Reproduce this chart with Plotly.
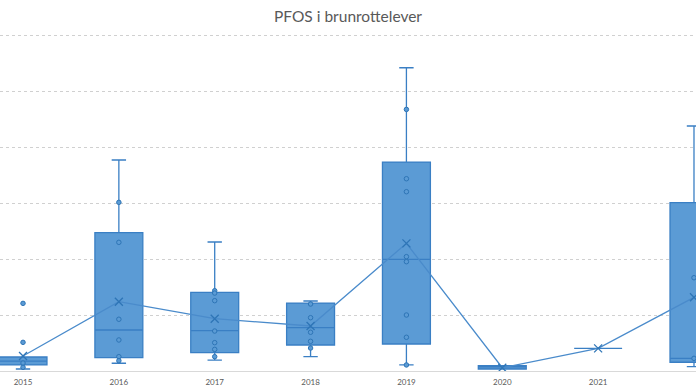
import plotly.graph_objects as go

years = ["2015", "2016", "2017", "2018", "2019", "2020", "2021", "2022"]
q1 = [5.4, 11.9, 16.4, 23.2, 24.1, 1.8, 20.2, 7.8]
median = [8.9, 36.6, 36.0, 38.7, 99.7, 3.6, 20.2, 11.3]
q3 = [12.5, 123.5, 70.3, 60.7, 186.6, 4.8, 20.2, 150.3]
lower = [1.8, 6.9, 9.8, 12.8, 5.4, 1.8, 20.2, 3.9]
upper = [12.5, 188.4, 115.2, 62.5, 270.8, 4.8, 20.2, 218.8]
mean = [13.4, 61.9, 46.7, 40.2, 114.0, 2.9, 20.2, 65.8]
points = {
    "2015": [60.4, 25.6, 7.1, 3.3],
    "2016": [150.6, 114.9, 46.2, 27.7, 12.8, 9.2],
    "2017": [71.7, 69.6, 62.8, 35.7, 25.3, 19.3, 12.8],
    "2018": [59.8, 47.6, 34.6, 26.5, 20.5],
    "2019": [233.6, 171.7, 160.1, 102.1, 97.6, 50.0, 30.1, 5.4],
    "2020": [],
    "2021": [],
    "2022": [83.3, 11.3],
}

xs = list(range(len(years)))
fig = go.Figure()
fig.add_trace(go.Box(
    x=xs, q1=q1, median=median, q3=q3, lowerfence=lower, upperfence=upper,
    width=0.5, whiskerwidth=0.3,
    fillcolor="#5B9BD5", line=dict(color="#3A7FC4", width=1.3),
    boxpoints=False, hoverinfo="skip", showlegend=False,
))
px_, py_ = [], []
for i, y in enumerate(years):
    for v in points[y]:
        px_.append(i)
        py_.append(v)
fig.add_trace(go.Scatter(
    x=px_, y=py_, mode="markers",
    marker=dict(symbol="circle", size=4.5, color="#5B9BD5",
                line=dict(color="#2E75B6", width=1)),
    showlegend=False,
))
fig.add_trace(go.Scatter(
    x=xs, y=mean, mode="lines+markers",
    line=dict(color="#4A8BCB", width=1.3),
    marker=dict(symbol="x-thin", size=8, line=dict(color="#2E75B6", width=1.3)),
    showlegend=False,
))

fig.update_layout(
    width=696, height=391,
    margin=dict(l=0, r=0, t=29, b=20),
    paper_bgcolor="white", plot_bgcolor="white",
    title=dict(text="PFOS i brunrottelever", x=0.5, xanchor="center",
               y=1 - 17 / 391, yanchor="middle",
               font=dict(family="Lato, Open Sans, sans-serif", size=15.5, color="#595959")),
    xaxis=dict(range=[-0.24, 7.021], tickvals=xs, ticktext=years,
               showgrid=False, showline=True, linecolor="#D9D9D9", linewidth=1,
               ticks="", zeroline=False, ticklabelstandoff=3,
               tickfont=dict(family="Lato, Open Sans, sans-serif", size=8, color="#595959")),
    yaxis=dict(range=[0, 305.4], dtick=50, showticklabels=False,
               showgrid=True, gridcolor="#D0D0D0", griddash="dot", gridwidth=1,
               zeroline=False, showline=False),
)
fig.write_html("out.html", config={"displayModeBar": False},
               post_script="document.body.style.margin='0';document.body.style.overflow='hidden';")
